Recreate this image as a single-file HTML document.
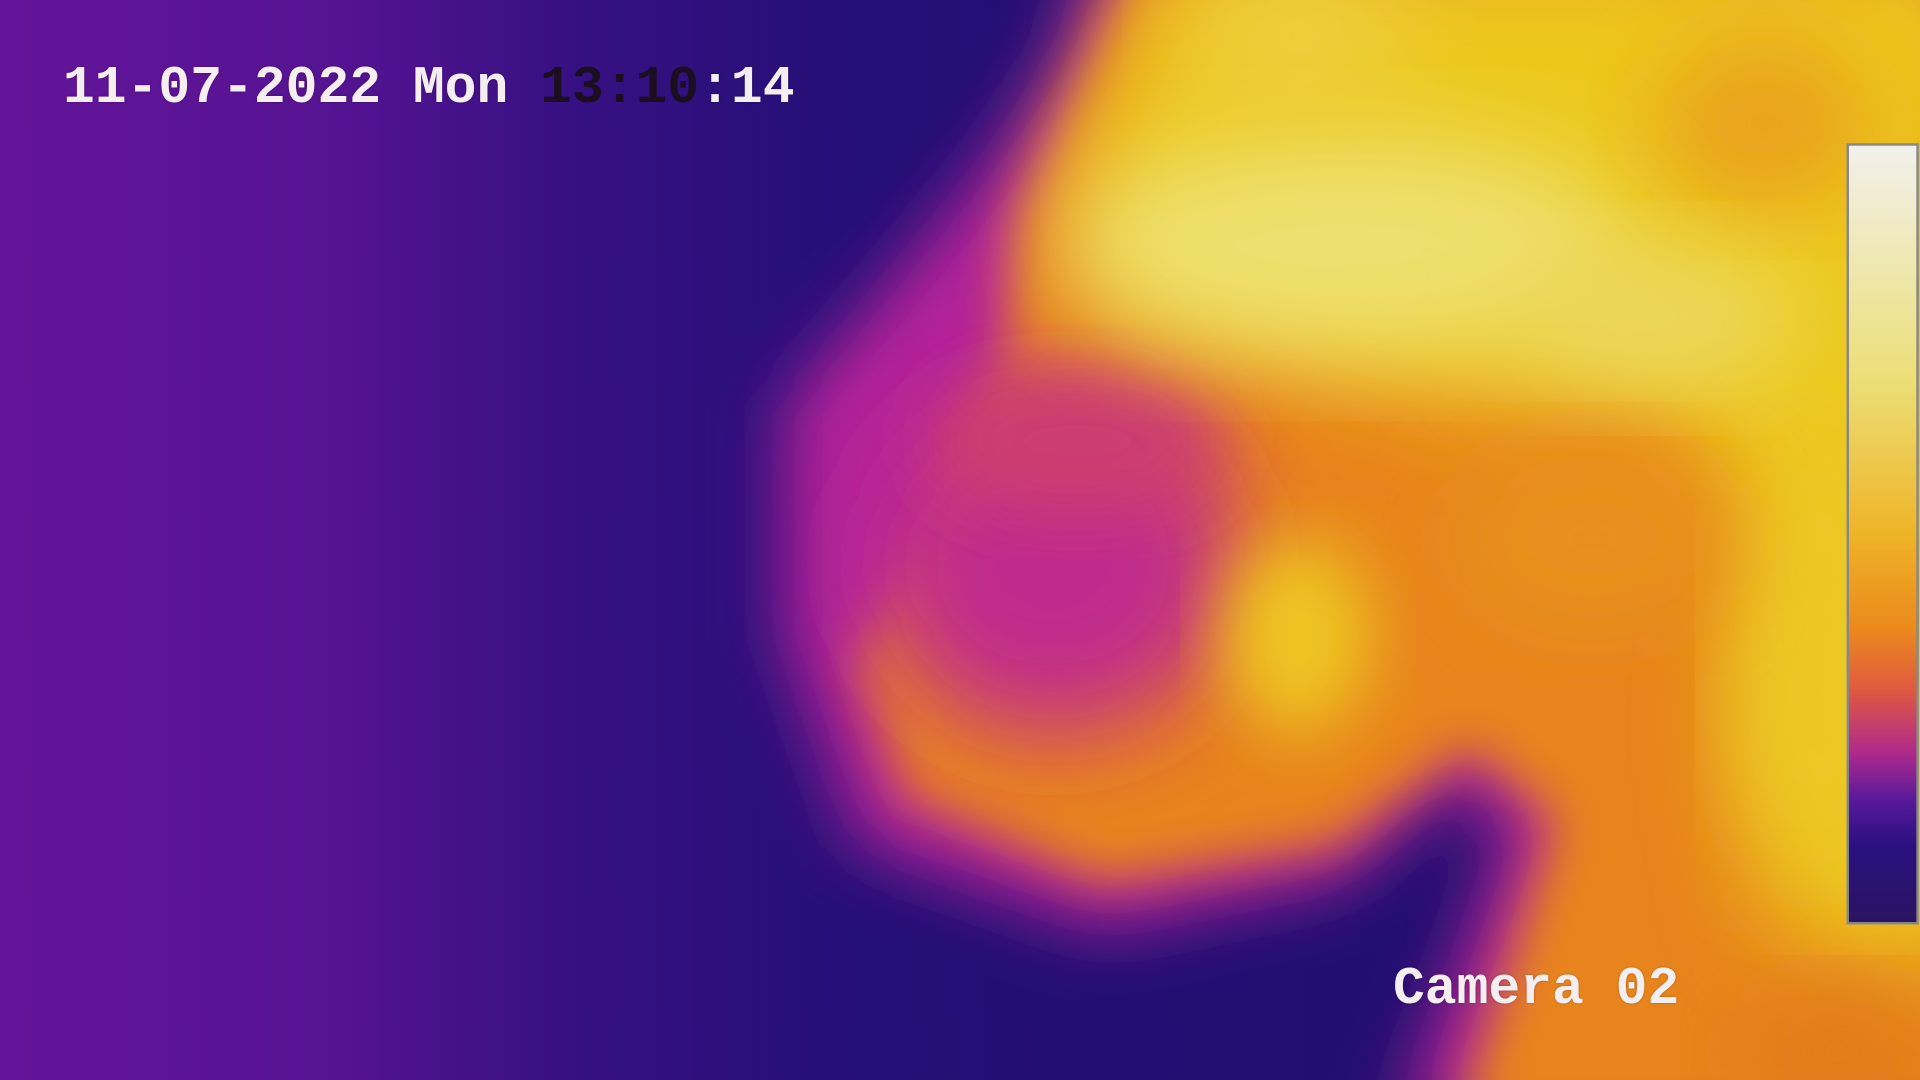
<!DOCTYPE html>
<html><head><meta charset="utf-8"><style>
html,body{margin:0;padding:0;background:#1e0f70;overflow:hidden}
#wrap{position:relative;width:1920px;height:1080px}
svg{position:absolute;left:0;top:0}
.t{position:absolute;font-family:"Liberation Mono",monospace;font-weight:bold;font-size:53px;color:#f4eef0;letter-spacing:0px;white-space:pre;text-shadow:0 0 2px rgba(0,0,0,0.3)}
</style></head><body>
<div id="wrap">
<svg width="1920" height="1080" viewBox="0 0 1568 882" preserveAspectRatio="none">
<defs>
<linearGradient id="bg" x1="0" x2="1" y1="0" y2="0">
<stop offset="0" stop-color="#64149a"/><stop offset="0.17" stop-color="#561392"/>
<stop offset="0.3" stop-color="#361082"/><stop offset="0.45" stop-color="#240f76"/>
<stop offset="1" stop-color="#1c0f6a"/></linearGradient>
<linearGradient id="cb" x1="0" x2="0" y1="0" y2="1">
<stop offset="0" stop-color="#f2f0ec"/><stop offset="0.3" stop-color="#ecdf78"/>
<stop offset="0.5" stop-color="#eeb428"/><stop offset="0.62" stop-color="#ec8a1c"/>
<stop offset="0.7" stop-color="#e05a40"/><stop offset="0.78" stop-color="#b02a8a"/>
<stop offset="0.84" stop-color="#5a1a9a"/><stop offset="0.9" stop-color="#2a1080"/>
<stop offset="1" stop-color="#2a1460"/></linearGradient>
<filter id="b30" x="-30%" y="-30%" width="160%" height="160%"><feGaussianBlur stdDeviation="28"/></filter>
<filter id="b20" x="-30%" y="-30%" width="160%" height="160%"><feGaussianBlur stdDeviation="20"/></filter>
<filter id="b40" x="-30%" y="-30%" width="160%" height="160%"><feGaussianBlur stdDeviation="40"/></filter>
</defs>
<rect width="1568" height="882" fill="url(#bg)"/>
<g>
<path filter="url(#b30)" fill="#b4229a" d="M890,-40 L1620,-40 L1620,920 L1140,920 L1230,680 L1190,640 L1100,720 L900,760 L700,690 L640,520 L640,330 L710,250 L810,130 L870,40 Z"/>
<path filter="url(#b20)" fill="#e8841c" d="M930,-40 L1620,-40 L1620,920 L1190,920 L1270,670 L1200,610 L1090,690 L900,720 L740,650 L700,540 L760,440 L820,300 L830,180 L880,80 Z"/>
<ellipse filter="url(#b40)" cx="860" cy="460" rx="150" ry="140" fill="#c02a8c"/>
<ellipse filter="url(#b30)" cx="880" cy="360" rx="120" ry="60" fill="#cc3c70"/>
<path filter="url(#b40)" fill="#ecc81e" d="M960,-40 L1620,-40 L1620,800 L1450,760 L1420,600 L1440,430 L1350,330 L1200,330 L1020,280 L900,250 L880,120 Z"/>
<ellipse filter="url(#b40)" cx="1480" cy="530" rx="60" ry="180" fill="#ecc826"/>
<ellipse filter="url(#b40)" cx="1440" cy="100" rx="90" ry="70" fill="#e9a01c"/>
<ellipse filter="url(#b40)" cx="1100" cy="200" rx="230" ry="90" fill="#eee070"/>
<ellipse filter="url(#b40)" cx="1350" cy="260" rx="120" ry="60" fill="#ecd860"/>
<ellipse filter="url(#b30)" cx="1060" cy="520" rx="60" ry="80" fill="#eec622"/>
<ellipse filter="url(#b40)" cx="1300" cy="440" rx="110" ry="70" fill="#e8921c"/>
<ellipse filter="url(#b40)" cx="1500" cy="860" rx="80" ry="50" fill="#e07a1c"/>
<ellipse filter="url(#b40)" cx="1060" cy="30" rx="90" ry="60" fill="#eece40"/>
</g>
<rect x="1509" y="118" width="57" height="636" fill="url(#cb)" stroke="#888" stroke-width="2"/>
</svg>
<div class="t" style="left:63px;top:58px">11-07-2022 Mon <span style="color:#1a0e20;text-shadow:none">13:10</span>:14</div>
<div class="t" style="left:1393px;top:959px">Camera 02</div>
</div>
</body></html>
